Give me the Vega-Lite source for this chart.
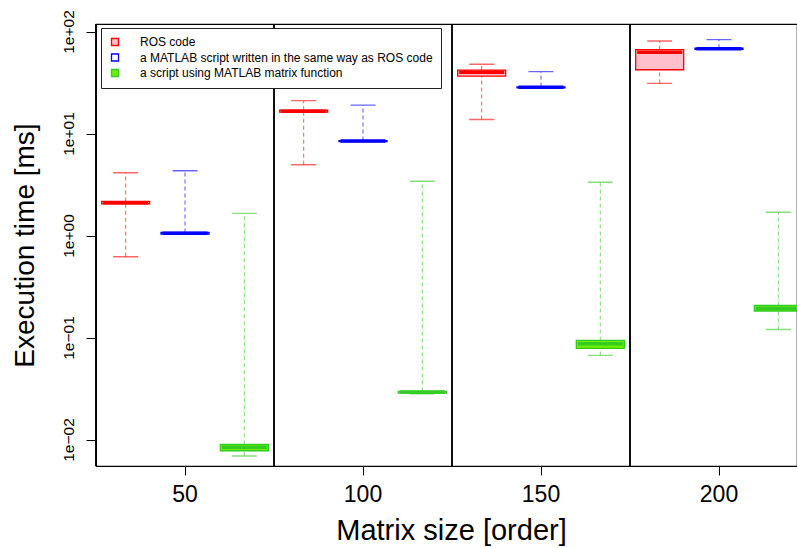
{
  "$schema": "https://vega.github.io/schema/vega-lite/v6.json",
  "autosize": "none",
  "padding": {"left": 96, "top": 24, "right": 0, "bottom": 82},
  "width": 701,
  "height": 442,
  "background": "white",
  "config": {
    "view": {"stroke": "black", "strokeWidth": 1.2},
    "font": "Liberation Sans",
    "axis": {"labelFont": "Liberation Sans", "titleFont": "Liberation Sans", "labelColor": "black", "titleColor": "black", "tickColor": "black", "titleFontWeight": "normal", "grid": false, "domain": false}
  },
  "data": {
    "values": [
      {"size": 50, "series": "ROS code", "min": 0.62, "q1": 2.04, "median": 2.10, "q3": 2.16, "max": 4.13},
      {"size": 50, "series": "a MATLAB script written in the same way as ROS code", "min": 1.03, "q1": 1.03, "median": 1.05, "q3": 1.07, "max": 4.31},
      {"size": 50, "series": "a script using MATLAB matrix function", "min": 0.00689, "q1": 0.00776, "median": 0.0084, "q3": 0.00897, "max": 1.65},
      {"size": 100, "series": "ROS code", "min": 4.94, "q1": 16.2, "median": 16.5, "q3": 16.9, "max": 21.0},
      {"size": 100, "series": "a MATLAB script written in the same way as ROS code", "min": 8.35, "q1": 8.35, "median": 8.43, "q3": 8.52, "max": 19.0},
      {"size": 100, "series": "a script using MATLAB matrix function", "min": 0.0280, "q1": 0.0285, "median": 0.0292, "q3": 0.0296, "max": 3.40},
      {"size": 150, "series": "ROS code", "min": 13.7, "q1": 36.6, "median": 39.8, "q3": 41.9, "max": 47.7},
      {"size": 150, "series": "a MATLAB script written in the same way as ROS code", "min": 28.1, "q1": 28.1, "median": 28.4, "q3": 28.7, "max": 40.4},
      {"size": 150, "series": "a script using MATLAB matrix function", "min": 0.0668, "q1": 0.0781, "median": 0.0869, "q3": 0.0936, "max": 3.33},
      {"size": 200, "series": "ROS code", "min": 31.0, "q1": 42.2, "median": 62.5, "q3": 66.4, "max": 80.7},
      {"size": 200, "series": "a MATLAB script written in the same way as ROS code", "min": 67.0, "q1": 67.0, "median": 67.8, "q3": 68.6, "max": 83.2},
      {"size": 200, "series": "a script using MATLAB matrix function", "min": 0.120, "q1": 0.182, "median": 0.193, "q3": 0.206, "max": 1.69}
    ]
  },
  "layer": [
    {
      "mark": {"type": "rule", "color": "black", "strokeWidth": 1.2},
      "encoding": {
        "x": {"field": "size", "type": "ordinal", "bandPosition": 0,
          "scale": {"type": "band", "domain": [50, 100, 150, 200], "range": [0, 712], "paddingInner": 0, "paddingOuter": 0},
          "axis": {"title": "Matrix size [order]", "labelAngle": 0, "labelFontSize": 23, "tickSize": 9, "labelPadding": 8, "titleFontSize": 29, "titleX": 355, "titleY": 73, "titleBaseline": "alphabetic", "titleAnchor": "middle", "titleAlign": "center"}}
      }
    },
    {
      "mark": {"type": "rule", "strokeDash": [4, 3], "strokeWidth": 1.1, "strokeOpacity": 0.6, "clip": true},
      "encoding": {
        "x": {"field": "size", "type": "ordinal"},
        "xOffset": {"field": "series", "type": "nominal", "scale": {"domain": ["ROS code", "a MATLAB script written in the same way as ROS code", "a script using MATLAB matrix function"], "paddingInner": 0, "paddingOuter": 0}},
        "y": {"field": "min", "type": "quantitative",
          "scale": {"type": "log", "domain": [0.0055, 118.5], "nice": false, "zero": false},
          "axis": {"title": "Execution time [ms]", "values": [0.01, 0.1, 1, 10, 100],
            "labelExpr": "datum.value < 0.05 ? '1e−02' : datum.value < 0.5 ? '1e−01' : datum.value < 5 ? '1e+00' : datum.value < 50 ? '1e+01' : '1e+02'",
            "labelAngle": -90, "labelAlign": "center", "labelBaseline": "alphabetic", "labelFontSize": 15.5, "tickSize": 10, "labelPadding": 13,
            "titleFontSize": 28, "titleAngle": -90, "titleX": -63, "titleY": 221, "titleAlign": "center", "titleBaseline": "alphabetic", "titleAnchor": "middle"}},
        "y2": {"field": "q1"},
        "stroke": {"field": "series", "type": "nominal",
          "scale": {"domain": ["ROS code", "a MATLAB script written in the same way as ROS code", "a script using MATLAB matrix function"], "range": ["#ff0000", "#0000ff", "#33cc22"]},
          "legend": {"title": null, "orient": "none", "legendX": 5, "legendY": 4, "padding": 8, "symbolType": "square", "symbolSize": 49, "symbolStrokeWidth": 1.3, "labelFontSize": 12, "labelFont": "Liberation Sans", "labelColor": "black", "labelOffset": 19, "rowPadding": 1.5, "strokeColor": "#222222", "fillColor": "white", "labelLimit": 400}}
      }
    },
    {
      "mark": {"type": "rule", "strokeDash": [4, 3], "strokeWidth": 1.1, "strokeOpacity": 0.6, "clip": true},
      "encoding": {
        "x": {"field": "size", "type": "ordinal"},
        "xOffset": {"field": "series", "type": "nominal"},
        "y": {"field": "q3", "type": "quantitative"},
        "y2": {"field": "max"},
        "stroke": {"field": "series", "type": "nominal"}
      }
    },
    {
      "mark": {"type": "bar", "width": 25, "fill": "transparent", "strokeWidth": 1.4, "strokeOpacity": 0.6, "clip": true},
      "encoding": {
        "x": {"field": "size", "type": "ordinal"},
        "xOffset": {"field": "series", "type": "nominal"},
        "y": {"field": "min", "type": "quantitative"},
        "y2": {"field": "min"},
        "stroke": {"field": "series", "type": "nominal"}
      }
    },
    {
      "mark": {"type": "bar", "width": 25, "fill": "transparent", "strokeWidth": 1.4, "strokeOpacity": 0.6, "clip": true},
      "encoding": {
        "x": {"field": "size", "type": "ordinal"},
        "xOffset": {"field": "series", "type": "nominal"},
        "y": {"field": "max", "type": "quantitative"},
        "y2": {"field": "max"},
        "stroke": {"field": "series", "type": "nominal"}
      }
    },
    {
      "mark": {"type": "bar", "width": 48, "strokeWidth": 1.3, "clip": true},
      "encoding": {
        "x": {"field": "size", "type": "ordinal"},
        "xOffset": {"field": "series", "type": "nominal"},
        "y": {"field": "q1", "type": "quantitative"},
        "y2": {"field": "q3"},
        "fill": {"field": "series", "type": "nominal",
          "scale": {"domain": ["ROS code", "a MATLAB script written in the same way as ROS code", "a script using MATLAB matrix function"], "range": ["#ffc0cb", "#ffffff", "#70f000"]},
          "legend": {"title": null, "orient": "none", "legendX": 5, "legendY": 4, "padding": 8, "symbolType": "square", "symbolSize": 49, "symbolStrokeWidth": 1.3, "labelFontSize": 12, "labelFont": "Liberation Sans", "labelColor": "black", "labelOffset": 19, "rowPadding": 1.5, "strokeColor": "#222222", "fillColor": "white", "labelLimit": 400}},
        "stroke": {"field": "series", "type": "nominal"}
      }
    },
    {
      "mark": {"type": "bar", "width": 45, "fill": "transparent", "strokeWidth": 3.5, "clip": true},
      "encoding": {
        "x": {"field": "size", "type": "ordinal"},
        "xOffset": {"field": "series", "type": "nominal"},
        "y": {"field": "median", "type": "quantitative"},
        "y2": {"field": "median"},
        "stroke": {"field": "series", "type": "nominal"}
      }
    }
  ]
}
